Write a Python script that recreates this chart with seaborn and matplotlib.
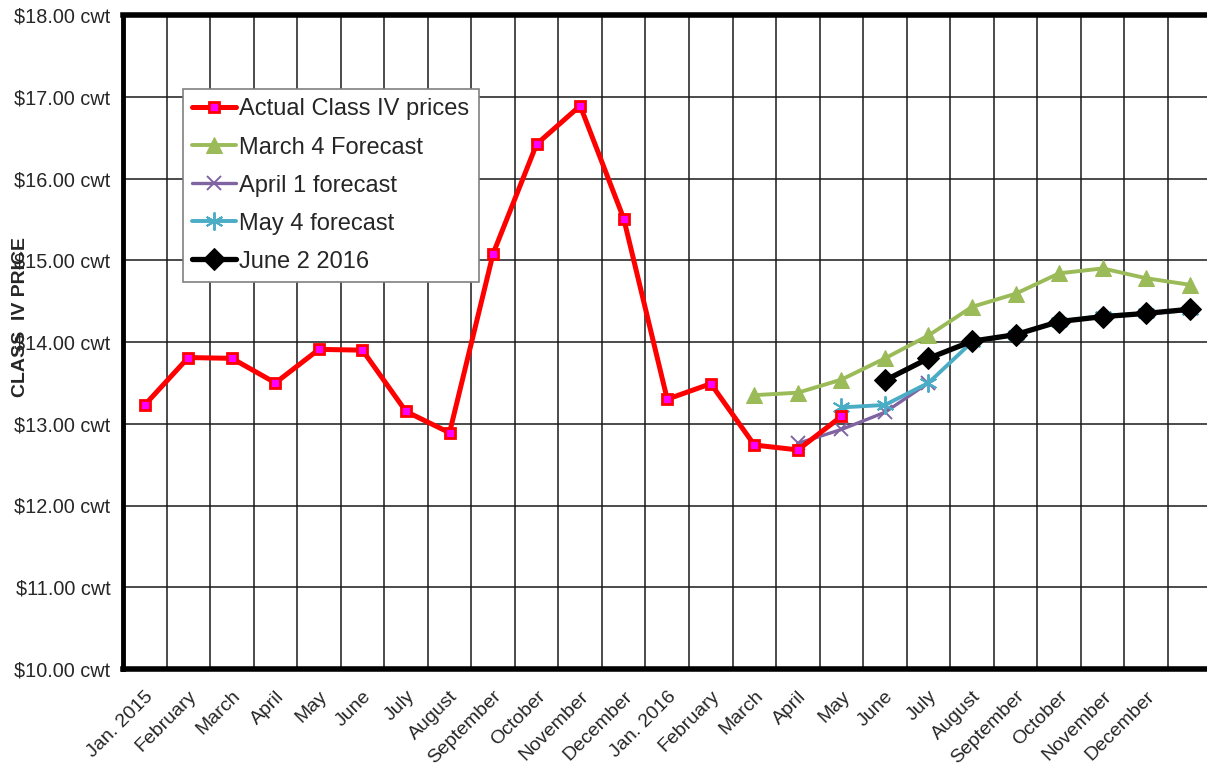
import matplotlib
matplotlib.use("Agg")
import matplotlib.pyplot as plt
import seaborn as sns
import numpy as np
import pandas as pd

# ---- data ----
months = ["Jan. 2015", "February", "March", "April", "May", "June", "July",
          "August", "September", "October", "November", "December",
          "Jan. 2016", "February", "March", "April", "May", "June", "July",
          "August", "September", "October", "November", "December", ""]

actual = [13.23, 13.81, 13.80, 13.50, 13.91, 13.90, 13.15, 12.89, 15.08,
          16.42, 16.89, 15.51, 13.30, 13.49, 12.74, 12.68, 13.09]
actual_start = 0

march4 = [13.35, 13.38, 13.54, 13.80, 14.08, 14.43, 14.59, 14.84, 14.90,
          14.78, 14.70]
march4_start = 14

april1 = [12.76, 12.93, 13.14, 13.50]
april1_start = 15

may4 = [13.20, 13.23, 13.50, 14.00, 14.09, 14.25, 14.32, 14.35, 14.39]
may4_start = 16

june2 = [13.53, 13.80, 14.01, 14.09, 14.25, 14.31, 14.35, 14.40]
june2_start = 17

yticks = [10, 11, 12, 13, 14, 15, 16, 17, 18]
ytick_labels = ["$%.2f cwt" % v for v in yticks]

sns.set_style("white")
plt.rcParams['font.family'] = ['Liberation Sans', 'DejaVu Sans']

W, H = 1207, 767
fig = plt.figure(figsize=(W / 100, H / 100), dpi=100)
ax = fig.add_axes([123 / W, 1 - 669 / H, (1211.5 - 123) / W, (669 - 15) / H])

def series(vals, start, name):
    return pd.DataFrame({"x": np.arange(start, start + len(vals)), "y": vals, "s": name})

sns.lineplot(data=series(actual, actual_start, "Actual Class IV prices"), x="x", y="y",
             ax=ax, color="#ff0000", lw=3.6, marker="s", markersize=7.5,
             markerfacecolor="#ff00ff", markeredgecolor="#ff0000", markeredgewidth=2,
             label="Actual Class IV prices", zorder=5)
sns.lineplot(data=series(march4, march4_start, "March 4 Forecast"), x="x", y="y",
             ax=ax, color="#9bbb59", lw=2.8, marker="^", markersize=12,
             markerfacecolor="#9bbb59", markeredgecolor="#9bbb59",
             label="March 4 Forecast", zorder=3)
sns.lineplot(data=series(april1, april1_start, "April 1 forecast"), x="x", y="y",
             ax=ax, color="#8064a2", lw=2.4, marker="x", markersize=10,
             markeredgewidth=1.4, markeredgecolor="#8064a2",
             label="April 1 forecast", zorder=4)
sns.lineplot(data=series(may4, may4_start, "May 4 forecast"), x="x", y="y",
             ax=ax, color="#4bacc6", lw=2.8, marker=(6, 2, 0), markersize=13,
             markeredgewidth=1.4, markeredgecolor="#4bacc6",
             label="May 4 forecast", zorder=4)
sns.lineplot(data=series(june2, june2_start, "June 2 2016"), x="x", y="y",
             ax=ax, color="#000000", lw=3.8, marker="D", markersize=11.5,
             markeredgecolor="#000000", markerfacecolor="#000000",
             label="June 2 2016", zorder=6)

ax.set_xlim(-0.5, len(months) - 0.5)
ax.set_ylim(10, 18)
ax.set_yticks(yticks)
ax.set_yticklabels(ytick_labels, fontsize=14.3)

# major ticks at category boundaries (with gridlines), minor ticks at centers (labels)
bounds = np.arange(-0.5, len(months) + 0.5, 1.0)
ax.set_xticks(bounds)
ax.set_xticklabels([""] * len(bounds))
ax.set_xticks(np.arange(len(months)), minor=True)
ax.set_xticklabels(months, minor=True, rotation=45, ha="right", va="top",
                   rotation_mode="anchor", fontsize=14)
ax.tick_params(axis="x", which="both", direction="inout", length=9, width=1,
               color="black")
ax.tick_params(axis="x", which="minor", pad=9)
ax.tick_params(axis="y", direction="out", length=7, width=1, color="black", pad=2)

ax.grid(True, which="major", axis="both", color="#1a1a1a", lw=1.1)
ax.set_axisbelow(True)

ax.set_xlabel("")
ax.set_ylabel("")
for side, lw in [("top", 4), ("left", 3.5), ("bottom", 4)]:
    ax.spines[side].set_visible(True)
    ax.spines[side].set_linewidth(lw)
    ax.spines[side].set_color("black")
ax.spines["right"].set_visible(False)

fig.text(21 / W, 1 - 317 / H, "CLASS  IV PRICE", rotation=90, ha="center",
         va="center", fontsize=14, fontweight="bold")

leg = ax.legend(loc="upper left", bbox_to_anchor=(183 / W, 1 - 89 / H),
                bbox_transform=fig.transFigure, fontsize=17, frameon=True,
                fancybox=False, framealpha=1, edgecolor="#808080",
                handlelength=1.85, handletextpad=0.12, labelspacing=0.68,
                borderpad=0.4, borderaxespad=0)
leg.get_frame().set_linewidth(1.2)

fig.savefig("out.png", dpi=100)
